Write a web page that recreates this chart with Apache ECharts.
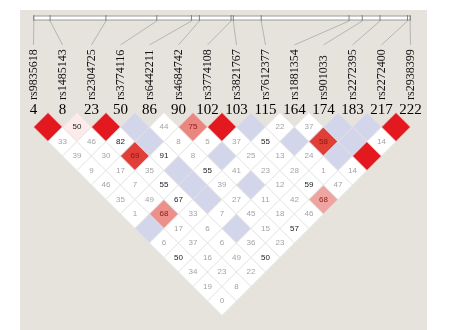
<!DOCTYPE html>
<html><head><meta charset="utf-8">
<script src="https://cdn.jsdelivr.net/npm/echarts@6.0.0/dist/echarts.min.js"></script>
<style>html,body{margin:0;padding:0;background:#fff}#c{width:449px;height:330px}</style>
</head><body><div id="c"></div>
<script>
// ---- data ----
const snpNames = ['rs9835618','rs1485143','rs2304725','rs3774116','rs6442211','rs4684742','rs3774108','rs3821767','rs7612377','rs1881354','rs901033','rs2272395','rs2272400','rs2938399'];
const snpNumbers = [4,8,23,50,86,90,102,103,115,164,174,183,217,222];
// relative physical position of each marker along the top bar (0..1)
const physFrac = [0.001,0.044,0.192,0.327,0.419,0.440,0.524,0.530,0.604,0.837,0.872,0.919,0.992,0.999];
// D' (x100) for pairs (i, j>i); 100 = complete LD (no number shown)
const ldDprime = [
  [100,33,39,9,46,35,1,100,6,50,34,19,0],
  [50,46,30,17,7,49,68,17,37,16,23,8],
  [100,82,69,35,55,67,33,6,6,49,22],
  [100,100,91,100,100,100,7,100,36,50],
  [44,8,8,55,39,27,45,15,23],
  [75,5,100,41,100,11,18,57],
  [100,37,25,23,12,42,46],
  [100,55,13,28,59,68],
  [22,100,24,1,47],
  [37,58,100,14],
  [100,100,100],
  [100,14],
  [100]
];
// LOD scores (estimated) for the same pairs
const ldLod = [
  [8,0.5,0.5,0.5,0.5,0.5,0.5,0.5,0.5,0.5,0.5,0.5,0.5],
  [2.4,0.5,0.5,0.5,0.5,0.5,4.2,0.5,0.5,0.5,0.5,0.5],
  [8,0.5,5.8,0.5,0.5,0.5,0.5,0.5,0.5,0.5,0.5],
  [0.5,0.5,0.5,0.5,0.5,0.5,0.5,0.5,0.5,0.5],
  [0.5,0.5,0.5,0.5,0.5,0.5,0.5,0.5,0.5],
  [4.4,0.5,0.5,0.5,0.5,0.5,0.5,0.5],
  [8,0.5,0.5,0.5,0.5,0.5,0.5],
  [0.5,0.5,0.5,0.5,0.5,3.8],
  [0.5,0.5,0.5,0.5,0.5],
  [0.5,5.8,0.5,0.5],
  [0.5,0.5,8],
  [0.5,0.5],
  [8]
];

// ---- build cell table ----
const cells = [];
ldDprime.forEach((row, r) => {
  const i = r + 1;
  row.forEach((dp, k) => {
    const j = i + 1 + k;
    cells.push([(i + j) / 2, j - i, dp, ldLod[r][k]]);
  });
});
const markers = snpNames.map((n, k) => [k + 1, physFrac[k]]);

function mix(t) {
  const base = [222, 52, 44];
  return 'rgb(' + base.map(b => Math.round(255 + (b - 255) * t)).join(',') + ')';
}

function renderCell(params, api) {
  const xc = api.value(0), d = api.value(1), dp = api.value(2), lod = api.value(3);
  const pts = [[xc - 0.5, d], [xc, d - 1], [xc + 0.5, d], [xc, d + 1]].map(p => api.coord(p));
  const c = api.coord([xc, d]);
  let fill = '#ffffff', txt = dp >= 50 ? '#1a1a1a' : '#a3a3a3';
  if (lod >= 2) {
    if (dp >= 100) fill = '#e4191f';
    else {
      const t = Math.max(0, Math.min(1, (lod - 2) / 4));
      fill = mix(t);
      if (t > 0.3) txt = '#8a1a14';
    }
  } else if (dp >= 100) {
    fill = '#d3d6ea';
  }
  const children = [{
    type: 'polygon', shape: { points: pts },
    style: { fill: fill, stroke: '#e2e2e2', lineWidth: 0.8 }
  }];
  if (dp < 100) {
    children.push({
      type: 'text', x: c[0], y: c[1],
      style: { text: String(dp), fill: txt, font: '8px "Liberation Sans", Arial, sans-serif', align: 'center', verticalAlign: 'middle' }
    });
  }
  return { type: 'group', children: children };
}

function renderHeader(params, api) {
  const k = params.dataIndex;
  const i = api.value(0);
  const frac = api.value(1);
  const children = [];
  if (k === 0) {
    const a = api.coord([1, -6.655]), b = api.coord([snpNames.length, -6.379]);
    children.push({ type: 'rect', shape: { x: a[0], y: a[1], width: b[0] - a[0], height: b[1] - a[1] },
      style: { fill: '#ffffff', stroke: '#9a9a9a', lineWidth: 1 } });
  }
  const tx = api.coord([1 + frac * (snpNames.length - 1), 0])[0];
  const lx = api.coord([i, 0])[0];
  const yT1 = api.coord([i, -6.72])[1], yT2 = api.coord([i, -6.31])[1];
  const yL = api.coord([i, -4.66])[1];
  const yLab = api.coord([i, -0.86])[1];
  const yNum = api.coord([i, -0.17])[1];
  children.push({ type: 'line', shape: { x1: tx, y1: yT1, x2: tx, y2: yT2 }, style: { stroke: '#808080', lineWidth: 1 } });
  children.push({ type: 'line', shape: { x1: tx, y1: yT2, x2: lx, y2: yL }, style: { stroke: '#b5b5b5', lineWidth: 1 } });
  children.push({ type: 'text', x: lx, y: yLab, rotation: Math.PI / 2,
    style: { text: snpNames[k], fill: '#111', font: '12px "Liberation Serif", "Times New Roman", serif', align: 'left', verticalAlign: 'middle' } });
  children.push({ type: 'text', x: lx, y: yNum,
    style: { text: String(snpNumbers[k]), fill: '#000', font: '15px "Liberation Serif", "Times New Roman", serif', align: 'center', verticalAlign: 'middle' } });
  return { type: 'group', children: children };
}

const chart = echarts.init(document.getElementById('c'), null, { renderer: 'canvas' });
chart.setOption({
  backgroundColor: '#ffffff',
  animation: false,
  graphic: [{ type: 'rect', left: 20, top: 10, shape: { width: 407, height: 320 }, style: { fill: '#e6e3dd' }, z: -10 }],
  grid: { left: 33.5, right: 38.5, top: 11, bottom: 14.5 },
  xAxis: { type: 'value', min: 1, max: 14, show: false },
  yAxis: { type: 'value', min: -7, max: 14, inverse: true, show: false },
  series: [
    { type: 'custom', data: cells, renderItem: renderCell, clip: false, silent: true },
    { type: 'custom', data: markers, renderItem: renderHeader, clip: false, silent: true }
  ]
});
</script></body></html>
